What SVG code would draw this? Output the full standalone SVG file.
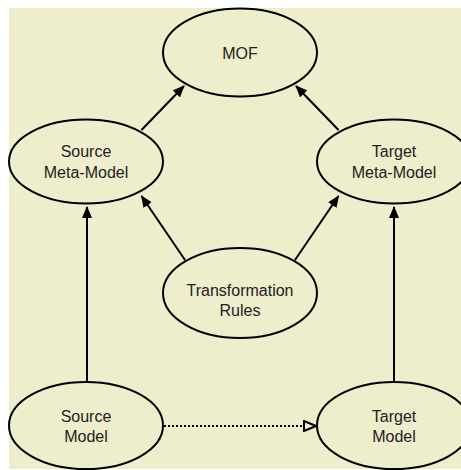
<svg xmlns="http://www.w3.org/2000/svg" width="461" height="470" viewBox="0 0 461 470">
<defs>
<style>
.node ellipse{fill:#EEEDCC;stroke:#000;stroke-width:2}
.node text{font-family:"Liberation Sans",Arial,sans-serif;font-size:16px;fill:#222;text-anchor:middle}
.edge{stroke:#000;stroke-width:2;fill:none}
.dot{stroke:#000;stroke-width:2;fill:none;stroke-dasharray:2 2}
</style>
<marker id="ah" markerWidth="12" markerHeight="10" refX="11" refY="5" orient="auto" markerUnits="userSpaceOnUse">
<path d="M0,0 L12,5 L0,10 Z" fill="#000"/>
</marker>
<marker id="oh" markerWidth="14" markerHeight="12" refX="13" refY="6" orient="auto" markerUnits="userSpaceOnUse">
<path d="M1,1 L13,6 L1,11 Z" fill="#EEEDCC" stroke="#000" stroke-width="2"/>
</marker>
</defs>
<rect x="9" y="8" width="452" height="461" fill="#EEEDCC"/>
<g id="connectors">
<line class="edge" x1="141.5" y1="130" x2="184" y2="86" marker-end="url(#ah)"/>
<line class="edge" x1="338.5" y1="130" x2="296" y2="86" marker-end="url(#ah)"/>
<line class="edge" x1="185" y1="260" x2="141.5" y2="196" marker-end="url(#ah)"/>
<line class="edge" x1="295" y1="260" x2="338.5" y2="196" marker-end="url(#ah)"/>
<line class="edge" x1="87" y1="382" x2="87" y2="207" marker-end="url(#ah)"/>
<line class="edge" x1="394" y1="382" x2="394" y2="207" marker-end="url(#ah)"/>
<line class="dot" x1="164" y1="426" x2="316" y2="426" marker-end="url(#oh)"/>
</g>
<g id="mof" class="node">
<ellipse cx="240" cy="52.5" rx="77" ry="44"/>
<text x="240" y="59">MOF</text>
</g>
<g id="source-meta-model" class="node">
<ellipse cx="86" cy="161.5" rx="77" ry="42"/>
<text x="86" y="157">Source</text>
<text x="86" y="178">Meta-Model</text>
</g>
<g id="target-meta-model" class="node">
<ellipse cx="394" cy="161.5" rx="77" ry="42"/>
<text x="394" y="157">Target</text>
<text x="394" y="178">Meta-Model</text>
</g>
<g id="transformation-rules" class="node">
<ellipse cx="240" cy="293" rx="77" ry="45"/>
<text x="240" y="296">Transformation</text>
<text x="240" y="316">Rules</text>
</g>
<g id="source-model" class="node">
<ellipse cx="86" cy="425.5" rx="77" ry="43.5"/>
<text x="86" y="421.5">Source</text>
<text x="86" y="442">Model</text>
</g>
<g id="target-model" class="node">
<ellipse cx="394" cy="425.5" rx="77" ry="43.5"/>
<text x="394" y="421.5">Target</text>
<text x="394" y="442">Model</text>
</g>
</svg>
